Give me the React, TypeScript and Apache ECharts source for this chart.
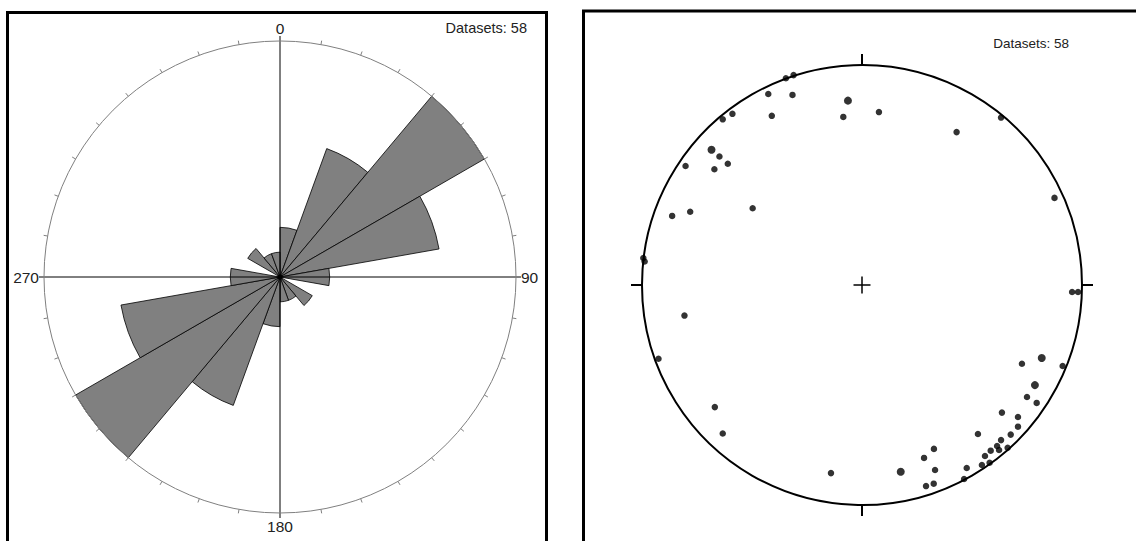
import React, { useEffect, useRef } from "react";
import * as echarts from "echarts";

// ---------- data ----------
// Rose diagram: 20-degree bins (start azimuth) and counts (bidirectional / mirrored)
const binStarts = [0, 20, 40, 60, 80, 100, 120, 140, 160, 180, 200, 220, 240, 260, 280, 300, 320, 340];
const binCounts = [4, 11, 19, 13, 4, 0, 3, 2, 2, 4, 11, 19, 13, 4, 0, 3, 2, 2];
const roseMax = 19;
const compassLabels = [0, 90, 180, 270];
const datasetsLabel = "Datasets: 58";

// Stereonet poles, normalised to the primitive circle (x east, y north)
const stereoPoints = [
  [-0.346, 0.94], [-0.311, 0.954], [-0.426, 0.868], [-0.316, 0.864],
  [-0.085, 0.764], [0.077, 0.786], [-0.41, 0.769], [-0.633, 0.753], [-0.589, 0.778],
  [0.632, 0.761], [0.43, 0.695], [-0.648, 0.584], [-0.61, 0.551],
  [-0.671, 0.526], [-0.802, 0.541], [-0.497, 0.349], [-0.863, 0.314], [-0.781, 0.333],
  [0.875, 0.396], [-0.994, 0.123], [-0.988, 0.107], [0.955, -0.032], [0.982, -0.032],
  [-0.807, -0.139], [-0.925, -0.335], [-0.669, -0.555], [-0.633, -0.675], [-0.141, -0.855],
  [0.727, -0.358], [0.912, -0.368], [0.75, -0.509], [0.794, -0.536],
  [0.636, -0.58], [0.709, -0.6], [0.709, -0.644], [0.676, -0.68], [0.527, -0.677],
  [0.632, -0.705], [0.614, -0.732], [0.585, -0.753], [0.623, -0.75], [0.662, -0.74],
  [0.559, -0.777], [0.545, -0.818], [0.58, -0.808], [0.476, -0.832], [0.464, -0.882],
  [0.327, -0.745], [0.282, -0.786], [0.332, -0.841], [0.291, -0.914], [0.326, -0.903],
];
const stereoLargePoints = [
  [-0.064, 0.838], [-0.684, 0.615], [0.817, -0.332], [0.786, -0.455], [0.176, -0.849],
];

// ---------- layout ----------
const ROSE = { cx: 280, cy: 277, r: 236 };
const NET = { cx: 862, cy: 285, r: 220 };
const FONT = 'Arial, "Liberation Sans", sans-serif';

export default function App() {
  const ref = useRef<HTMLDivElement>(null);
  useEffect(() => {
    if (!ref.current) return;
    const chart = echarts.init(ref.current, null, { renderer: "svg" });
    chart.setOption({
      animation: false,
      backgroundColor: "#fff",
      polar: [
        { center: [ROSE.cx, ROSE.cy], radius: ROSE.r },
        { center: [ROSE.cx, ROSE.cy], radius: ROSE.r },
        { center: [NET.cx, NET.cy], radius: NET.r },
      ],
      angleAxis: [
        {
          polarIndex: 0, type: "category", data: binStarts.map(String), startAngle: 90, clockwise: true,
          boundaryGap: true, axisLine: { show: false }, axisTick: { show: false },
          axisLabel: { show: false }, splitLine: { show: false },
        },
        {
          polarIndex: 1, type: "value", min: 0, max: 360, interval: 90, startAngle: 90, clockwise: true, z: 10,
          axisLine: { show: true, lineStyle: { color: "#808080", width: 1 } },
          axisTick: { show: true, length: 5, lineStyle: { color: "#000", width: 1 } },
          minorTick: { show: true, splitNumber: 9, length: 4, lineStyle: { color: "#808080", width: 1 } },
          splitLine: { show: true, lineStyle: { color: "#000", width: 1 } },
          axisLabel: {
            show: true, margin: 5, color: "#222", fontSize: 15.5, fontFamily: FONT,
            formatter: (v: number) => (compassLabels.includes(v) ? String(v) : ""),
          },
        },
        {
          polarIndex: 2, type: "value", min: 0, max: 360, interval: 90, startAngle: 90, clockwise: true,
          axisLine: { show: true, lineStyle: { color: "#000", width: 2 } },
          axisTick: { show: true, length: 11, lineStyle: { color: "#000", width: 2 } },
          axisLabel: { show: false }, splitLine: { show: false },
        },
      ],
      radiusAxis: [
        { polarIndex: 0, type: "value", min: 0, max: roseMax, show: false },
        { polarIndex: 1, type: "value", min: 0, max: 1, show: false },
        { polarIndex: 2, type: "value", min: 0, max: 1, show: false },
      ],
      grid: [{ left: NET.cx - NET.r, top: NET.cy - NET.r, width: 2 * NET.r, height: 2 * NET.r }],
      xAxis: [{ type: "value", min: -1, max: 1, show: false, gridIndex: 0 }],
      yAxis: [{ type: "value", min: -1, max: 1, show: false, gridIndex: 0 }],
      series: [
        {
          type: "bar", coordinateSystem: "polar", polarIndex: 0, data: binCounts,
          barCategoryGap: "0%", barGap: "0%", silent: true,
          itemStyle: { color: "#808080", borderColor: "#000", borderWidth: 0.8 },
        },
        {
          type: "scatter", xAxisIndex: 0, yAxisIndex: 0, data: stereoPoints, symbolSize: 6.5,
          itemStyle: { color: "#000" }, silent: true,
        },
        {
          type: "scatter", xAxisIndex: 0, yAxisIndex: 0, data: stereoLargePoints, symbolSize: 8,
          itemStyle: { color: "#000" }, silent: true,
        },
      ],
      graphic: [
        { type: "rect", shape: { x: 7.5, y: 12.5, width: 539, height: 600 }, style: { fill: "none", stroke: "#000", lineWidth: 3 }, z: 20 },
        { type: "rect", shape: { x: 583.5, y: 11, width: 600, height: 600 }, style: { fill: "none", stroke: "#000", lineWidth: 3 }, z: 20 },
        { type: "text", x: 527, y: 28, style: { text: datasetsLabel, fill: "#222", font: `14.5px ${FONT}`, textAlign: "right", textVerticalAlign: "middle" }, z: 20 },
        { type: "text", x: 1069, y: 43, style: { text: datasetsLabel, fill: "#222", font: `13.5px ${FONT}`, textAlign: "right", textVerticalAlign: "middle" }, z: 20 },
        { type: "line", shape: { x1: NET.cx - 8.5, y1: NET.cy, x2: NET.cx + 8.5, y2: NET.cy }, style: { stroke: "#000", lineWidth: 1.5 }, z: 20 },
        { type: "line", shape: { x1: NET.cx, y1: NET.cy - 8.5, x2: NET.cx, y2: NET.cy + 8.5 }, style: { stroke: "#000", lineWidth: 1.5 }, z: 20 },
        { type: "circle", shape: { cx: ROSE.cx, cy: ROSE.cy, r: 2.5 }, style: { fill: "#000" }, z: 20 },
      ],
    });
    return () => chart.dispose();
  }, []);
  return <div ref={ref} style={{ position: "absolute", left: 0, top: 0, width: 1136, height: 541 }} />;
}
